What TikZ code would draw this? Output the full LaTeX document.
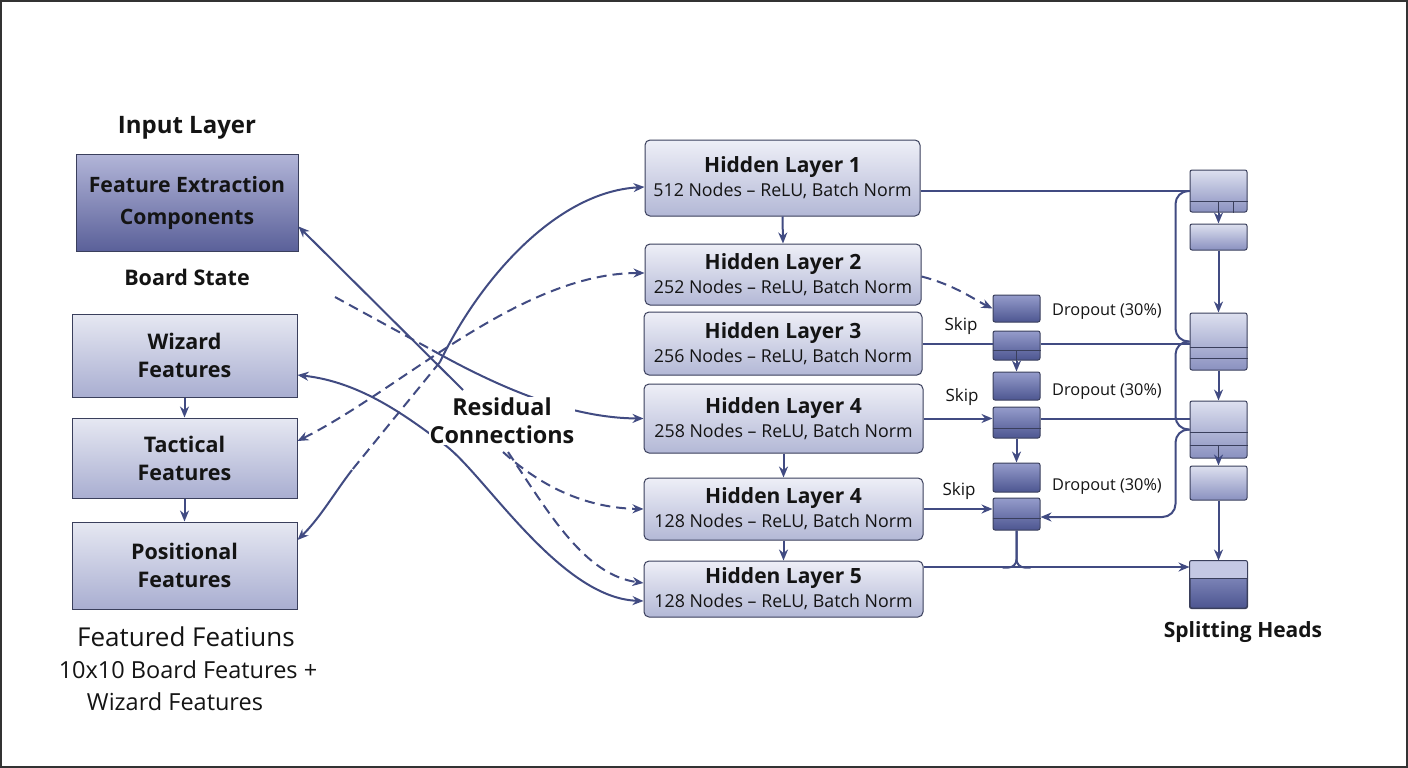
\documentclass[tikz,border=0pt]{standalone}
\usepackage{fontspec}
\setmainfont{Open Sans}
\usetikzlibrary{arrows.meta}
\definecolor{lc}{HTML}{414B82}
\definecolor{bc}{HTML}{3A3F5C}
\definecolor{tc}{HTML}{141414}
\definecolor{ht}{HTML}{EEEFF7}
\definecolor{hb}{HTML}{B3B8D6}
\definecolor{lt}{HTML}{E6E8F2}
\definecolor{lb}{HTML}{A9AED1}
\definecolor{ft}{HTML}{B2B5D8}
\definecolor{fb}{HTML}{5A6099}
\definecolor{dt}{HTML}{959CCB}
\definecolor{db}{HTML}{4D5691}
\definecolor{rt}{HTML}{DDE0EF}
\definecolor{rb}{HTML}{8A91C0}
\definecolor{sht}{HTML}{C4C8E4}
\tikzset{
 ln/.style={draw=lc, line width=2pt},
 tip/.style={-{Stealth[length=11pt,width=9pt]}},
 tipb/.style={{Stealth[length=11pt,width=9pt]}-{Stealth[length=11pt,width=9pt]}},
 tips/.style={{Stealth[length=11pt,width=9pt]}-},
 dsh/.style={dash pattern=on 10pt off 6pt},
 lbox/.style={draw=bc, line width=1pt, top color=lt, bottom color=lb, align=center, font=\bfseries\fontsize{21.5}{28}\selectfont, text=tc, inner sep=0pt},
 hbox/.style={draw=bc, line width=1pt, rounded corners=5pt, top color=ht, bottom color=hb, align=center, font=\fontsize{17.8}{24}\selectfont, text=tc, inner sep=0pt},
 dbox/.style={draw=bc, line width=1pt, rounded corners=2pt, top color=dt, bottom color=db, minimum width=47pt, inner sep=0pt},
 rbox/.style={draw=bc, line width=1pt, rounded corners=2pt, top color=rt, bottom color=rb, minimum width=57pt, inner sep=0pt},
 lab/.style={font=\fontsize{16.3}{19}\selectfont, text=tc, inner sep=1pt},
 sep/.style={draw=bc, line width=1pt},
}
\newcommand\hlt[1]{{\bfseries\fontsize{21}{24}\selectfont #1}}
\begin{document}
\begin{tikzpicture}[x=1pt,y=-1pt]
\useasboundingbox (0,0) rectangle (1408,768);
\fill[white] (0,0) rectangle (1408,768);
\draw[line width=1.2pt, black!80] (1,1) rectangle (1407,767);

% ---------- left column ----------
\node[font=\bfseries\fontsize{24}{28}\selectfont, text=tc] (inl) at (187,128) {Input Layer};
\node[lbox, top color=ft, bottom color=fb, minimum width=222pt, minimum height=97pt, font=\bfseries\fontsize{21.2}{32}\selectfont] (fe) at (187,203) {Feature Extraction\\Components};
\node[font=\bfseries\fontsize{21.5}{26}\selectfont, text=tc] (bs) at (187,277) {Board State};
\node[lbox, minimum width=225pt, minimum height=83pt] (wiz) at (184.5,355.5) {Wizard\\Features};
\node[lbox, minimum width=225pt, minimum height=80pt] (tac) at (184.5,458) {Tactical\\Features};
\node[lbox, minimum width=225pt, minimum height=87pt] (pos) at (184.5,565.5) {Positional\\Features};
\node[font=\fontsize{26}{30}\selectfont, text=tc] (ff) at (186,637) {Featured Featiuns};
\node[font=\fontsize{23.5}{28}\selectfont, text=tc] (bf) at (188,670) {10x10 Board Features +};
\node[font=\fontsize{23.5}{28}\selectfont, text=tc] (wf) at (175,702) {Wizard Features};
\draw[ln,tip] (wiz.south) -- (tac.north);
\draw[ln,tip] (tac.south) -- (pos.north);

% ---------- hidden layers ----------
\node[hbox, minimum width=275pt, minimum height=76pt] (h1) at (782.5,178) {\hlt{Hidden Layer 1}\\512 Nodes – ReLU, Batch Norm};
\node[hbox, minimum width=276pt, minimum height=61pt] (h2) at (783,274.5) {\hlt{Hidden Layer 2}\\252 Nodes – ReLU, Batch Norm};
\node[hbox, minimum width=278pt, minimum height=63pt] (h3) at (783,343.5) {\hlt{Hidden Layer 3}\\256 Nodes – ReLU, Batch Norm};
\node[hbox, minimum width=279pt, minimum height=69pt] (h4) at (783.5,418.5) {\hlt{Hidden Layer 4}\\258 Nodes – ReLU, Batch Norm};
\node[hbox, minimum width=279pt, minimum height=62pt] (h4b) at (783.5,509) {\hlt{Hidden Layer 4}\\128 Nodes – ReLU, Batch Norm};
\node[hbox, minimum width=279pt, minimum height=56pt] (h5) at (783.5,589) {\hlt{Hidden Layer 5}\\128 Nodes – ReLU, Batch Norm};
\draw[ln,tip] (h1.south) -- (h2.north);
\draw[ln,tip] (h4.south) -- (h4b.north);
\draw[ln,tip] (h4b.south) -- (h5.north);

% ---------- dropout / skip column ----------
\node[dbox, minimum height=27pt] (d1) at (1016.5,308.5) {};
\node[dbox, minimum height=29pt] (s1) at (1016.5,345.5) {};
\node[dbox, minimum height=28pt] (d2) at (1016.5,386) {};
\node[dbox, minimum height=31pt] (s2) at (1016.5,422.5) {};
\node[dbox, minimum height=29pt] (d3) at (1016.5,477.5) {};
\node[dbox, minimum height=32pt] (s3) at (1016.5,514) {};
\draw[sep] ([yshift=-4.5pt]s1.west) -- ([yshift=-4.5pt]s1.east);
\draw[sep] (s1.south) -- ([yshift=-4.5pt]s1.center);
\draw[sep] ([yshift=-5.5pt]s2.west) -- ([yshift=-5.5pt]s2.east);
\draw[sep] ([yshift=-4pt]s3.west) -- ([yshift=-4pt]s3.east);
\node[lab] (dl1) at (1107,312) {Dropout (30\%)};
\node[lab] (dl2) at (1107,392) {Dropout (30\%)};
\node[lab] (dl3) at (1107,487) {Dropout (30\%)};
\node[lab, font=\fontsize{17}{20}\selectfont] (sk1) at (961,326) {Skip};
\node[lab, font=\fontsize{17}{20}\selectfont] (sk2) at (962,397) {Skip};
\node[lab, font=\fontsize{17}{20}\selectfont] (sk3) at (959,491) {Skip};
\draw[ln,tip] (s1.south) -- (d2.north);
\draw[ln,tip] (s2.south) -- (d3.north);

% ---------- right column ----------
\node[rbox, minimum height=42pt] (r1) at (1218.5,191) {};
\node[rbox, minimum height=26pt] (r1b) at (1218.5,237) {};
\node[rbox, minimum height=57pt] (r2) at (1218.5,341.5) {};
\node[rbox, minimum height=57pt] (r3) at (1218.5,429.5) {};
\node[rbox, minimum height=34pt] (r3b) at (1218.5,483) {};
\node[rbox, minimum height=47pt, top color=dt, bottom color=db] (sh) at (1218.5,584.5) {};
\fill[sht] ([xshift=0.5pt,yshift=-0.5pt]sh.north west) rectangle ([xshift=-0.5pt,yshift=6.5pt]sh.east);
\draw[sep, rounded corners=2pt] (sh.north west) rectangle (sh.south east);
\draw[sep] ([yshift=6.5pt]sh.west) -- ([yshift=6.5pt]sh.east);
\draw[sep] ([yshift=-10pt]r1.west) -- ([yshift=-10pt]r1.east);
\draw[sep] ([xshift=-0.5pt]r1.south) -- ([xshift=-0.5pt,yshift=-10pt]r1.center);
\draw[sep] ([xshift=14.5pt]r1.south) -- ([xshift=14.5pt,yshift=-10pt]r1.center);
\draw[sep] ([yshift=-5.5pt]r2.west) -- ([yshift=-5.5pt]r2.east);
\draw[sep] ([yshift=-16.5pt]r2.west) -- ([yshift=-16.5pt]r2.east);
\draw[sep] ([yshift=-2.5pt]r3.west) -- ([yshift=-2.5pt]r3.east);
\draw[sep] ([yshift=-15.5pt]r3.west) -- ([yshift=-15.5pt]r3.east);
\draw[sep] ([xshift=-0.5pt]r3.south) -- ([xshift=-0.5pt,yshift=-15.5pt]r3.center);
\node[font=\bfseries\fontsize{21}{24}\selectfont, text=tc] (shl) at (1243,632) {Splitting Heads};
\draw[ln,tip] (r1.south) -- (r1b.north);
\draw[ln,tip] (r1b.south) -- (r2.north);
\draw[ln,tip] (r2.south) -- (r3.north);
\draw[ln,tip] (r3.south) -- (r3b.north);
\draw[ln,tip] (r3b.south) -- (sh.north);

% ---------- right-side connectors ----------
\draw[ln] (h1.east |- r1.west) -- (r1.west);
\draw[ln, rounded corners=13pt] (r1.west) -- ++(-14,0) -- ([xshift=-14pt]r2.west) -- (r2.west);
\draw[ln, rounded corners=13pt] (r2.west) -- ++(-14,0) -- ([xshift=-14pt]r3.west) -- (r3.west);
\draw[ln, tip, rounded corners=13pt] (r3.west) -- ++(-14,0) |- ([yshift=-3pt]s3.east);
\draw[ln,dsh,tip] ([yshift=-2pt]h2.east) .. controls (955,285) and (975,300) .. (d1.west);
\draw[ln] (h3.east) -- (h3.east -| s1.west);
\draw[ln] (s1.east |- h3.east) -- (h3.east -| r2.west);
\draw[ln,tip] (h4.east) -- (h4.east -| s2.west);
\draw[ln] (s2.east |- h4.east) -- (h4.east -| r3.west);
\draw[ln,tip] (h4b.east) -- (h4b.east -| s3.west);
\draw[ln,tip] ([yshift=22pt]h5.east) -- ([yshift=22pt]h5.east -| sh.west);
\draw[ln, rounded corners=8pt] (s3.south) -- ++(0,37) -- ++(14,0);
\draw[ln, rounded corners=8pt] (s3.south) -- ++(0,37) -- ++(-14,0);

% ---------- residual connections ----------
\coordinate (c1) at (440,362);
\coordinate (c2) at (352,470);
\coordinate (cw) at (445,445);
\coordinate (rs) at (335,297);
\coordinate (rm) at (432,350);
\coordinate (re) at (463,390);
\coordinate (rf) at (503,452);
\coordinate (rg) at (508,452);
\draw[ln,tips] ([yshift=-9pt]h1.west) .. controls (555,192) and (478,282) .. (c1);
\draw[ln,dsh] (c1) -- (c2);
\draw[ln,tip] (c2) .. controls (335,492) and (320,518) .. ([yshift=25.5pt]pos.east);
\draw[ln,dsh,tipb] ([yshift=17pt]tac.east) .. controls (400,390) and (520,273) .. ([yshift=1.5pt]h2.west);
\draw[ln,tipb] ([yshift=-19.5pt]wiz.east) .. controls (360,382) and (405,415) .. (cw) .. controls (485,475) and (560,598) .. ([yshift=-12pt]h5.west);
\draw[ln,dsh] (rs) -- (rm);
\draw[ln,tip] (rm) .. controls (500,388) and (570,418) .. (h4.west);
\draw[ln,tip] (re) -- ([yshift=-23.5pt]fe.east);
\draw[ln,dsh,tip] (rf) .. controls (545,490) and (590,508) .. (h4b.west);
\draw[ln,dsh,tip] (rg) .. controls (550,515) and (585,575) .. ([yshift=6pt]h5.west);
\node[fill=white, inner sep=1pt, align=center, text=tc, font=\bfseries\fontsize{23.4}{28}\selectfont] (res) at (502,421) {Residual\\Connections};
\end{tikzpicture}
\end{document}
